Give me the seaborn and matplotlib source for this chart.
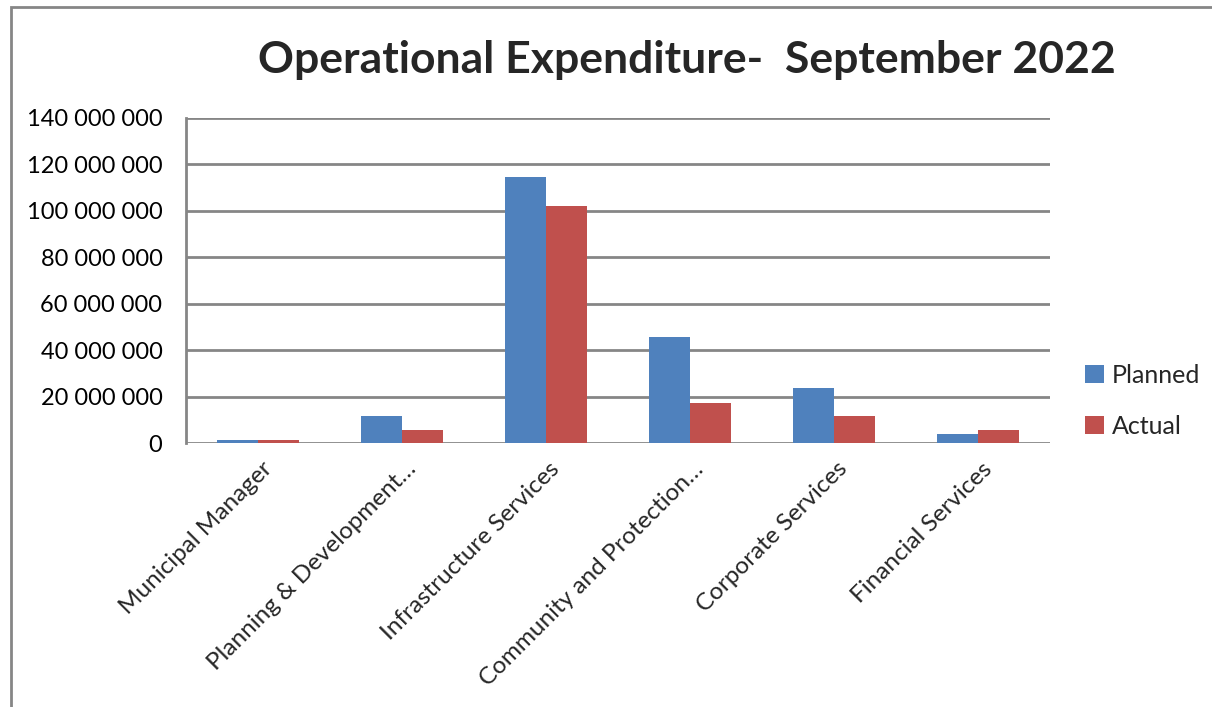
import matplotlib
matplotlib.use("Agg")
import matplotlib.pyplot as plt
import matplotlib.transforms as mtransforms
import seaborn as sns
import pandas as pd
from matplotlib.patches import Rectangle
from matplotlib.ticker import FuncFormatter, MultipleLocator

categories = ["Municipal Manager", "Planning & Development…", "Infrastructure Services",
              "Community and Protection…", "Corporate Services", "Financial Services"]
planned = [1_300_000, 11_600_000, 114_700_000, 45_800_000, 23_600_000, 3_900_000]
actual = [1_500_000, 5_600_000, 102_100_000, 17_100_000, 11_600_000, 5_500_000]
series_names = ["Planned", "Actual"]
colors = ["#4F81BD", "#C0504D"]
title = "Operational Expenditure-  September 2022"

df = pd.DataFrame({
    "Department": categories * 2,
    "Series": [series_names[0]] * len(categories) + [series_names[1]] * len(categories),
    "Value": planned + actual,
})

sns.set_theme(style="white")
plt.rcParams["font.family"] = ["Lato", "DejaVu Sans"]

W, H = 1212, 707
fig = plt.figure(figsize=(W / 100, H / 100), dpi=100)
ax = fig.add_axes([186 / W, (H - 443) / H, 864 / W, 325 / H])

sns.barplot(data=df, x="Department", y="Value", hue="Series", palette=colors,
            width=0.57, gap=0, ax=ax, saturation=1, legend=True, linewidth=0)

ax.set_ylim(0, 140_000_000)
ax.yaxis.set_major_locator(MultipleLocator(20_000_000))
ax.yaxis.set_major_formatter(FuncFormatter(lambda v, p: f"{int(v):,}".replace(",", " ")))
ax.grid(axis="y", color="#868686", linewidth=2)
ax.set_axisbelow(True)
for s in ["top", "right", "bottom"]:
    ax.spines[s].set_visible(False)
ax.spines["left"].set_color("#868686")
ax.spines["left"].set_linewidth(2)
ax.set_xlabel("")
ax.set_ylabel("")
ax.tick_params(axis="y", labelsize=17, length=0, pad=17, labelcolor="black")
ax.tick_params(axis="x", length=0, pad=11)
ax.set_xticks(range(len(categories)))
ax.set_xticklabels(categories, rotation=45, ha="right", va="top", rotation_mode="anchor", fontsize=17.5)
offset = mtransforms.ScaledTranslation(3 / 100, 0, fig.dpi_scale_trans)
for lbl in ax.get_xticklabels():
    lbl.set_transform(lbl.get_transform() + offset)

leg = ax.legend(loc="center left", bbox_to_anchor=(1.015, 0.13), frameon=False, fontsize=18,
                handlelength=0.75, handleheight=0.75, handletextpad=0.3, labelspacing=1.1)

fig.text(687 / W, 1 - 60 / H, title, ha="center", va="center", fontsize=32, fontweight="bold")

fig.patches.append(Rectangle((11 / W, -0.1), 1.2, (H - 7) / H + 0.1, transform=fig.transFigure,
                             fill=False, edgecolor="#868686", linewidth=2))

fig.savefig("out.png", dpi=100)
